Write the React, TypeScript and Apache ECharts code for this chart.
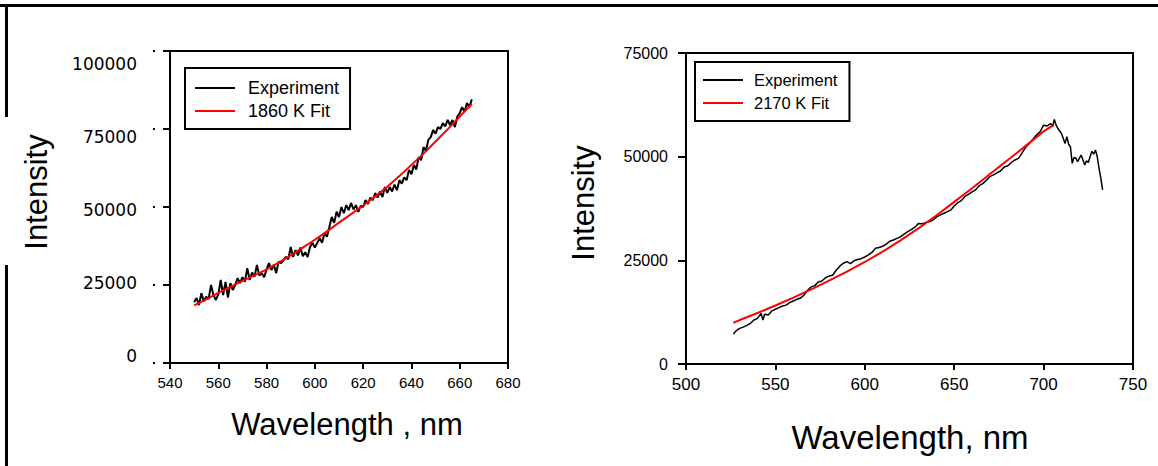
import React, { useEffect, useRef } from "react";
import * as echarts from "echarts";

// ---------- data ----------
const leftExpWl = [
  550, 551, 552, 553, 554, 555, 556, 557, 558, 559, 560, 561, 562, 563, 564, 565, 566, 567, 568, 569,
  570, 571, 572, 573, 574, 575, 576, 577, 578, 579, 580, 581, 582, 583, 584, 585, 586, 587, 588, 589,
  590, 591, 592, 593, 594, 595, 596, 597, 598, 599, 600, 601, 602, 603, 604, 605, 606, 607, 608, 609,
  610, 611, 612, 613, 614, 615, 616, 617, 618, 619, 620, 621, 622, 623, 624, 625, 626, 627, 628, 629,
  630, 631, 632, 633, 634, 635, 636, 637, 638, 639, 640, 641, 642, 643, 644, 645, 646, 647, 648, 649,
  650, 651, 652, 653, 654, 655, 656, 657, 658, 659, 660, 661, 662, 663, 664, 665,
];
const leftExpInt = [
  19500, 20800, 18600, 22400, 19800, 21200, 20500, 25000, 21800, 20200, 22000, 26600, 21800, 26000, 21000, 25600, 23400, 25000, 27200, 25600,
  27500, 26000, 30400, 26600, 29000, 27600, 31400, 28000, 28800, 27500, 30000, 32000, 29800, 31500, 28800, 32500, 32000, 33000, 34000, 33200,
  37200, 34000, 36200, 34500, 37000, 34200, 35500, 34000, 37200, 38500, 37000, 38500, 40000, 38500, 41700, 40500, 43600, 46800, 44900, 48500,
  46800, 50000, 48000, 50600, 49000, 51300, 49200, 50600, 48400, 50400, 50000, 52200, 51000, 53000, 52200, 54500, 53000, 55000, 53200, 56400,
  54500, 56400, 55000, 57200, 55400, 58600, 57500, 59500, 58600, 61900, 60500, 63500, 62000, 66000, 65000, 69200, 68000, 71500, 72400, 74700,
  73500, 75600, 75000, 76900, 75800, 77900, 76300, 77900, 75600, 79000, 80100, 82000, 80500, 83300, 82000, 84500,
];
const leftFitWl = [550, 555, 560, 565, 570, 575, 580, 585, 590, 595, 600, 605, 610, 615, 620, 625, 630, 635, 640, 645, 650, 655, 660, 665];
const leftFitInt = [18500, 20400, 22500, 24400, 26300, 28100, 30000, 32200, 34500, 37000, 39500, 42200, 45000, 47700, 50500, 53400, 56500, 59900, 63500, 67100, 71000, 74900, 79000, 83000];

const rightExpWl = [
  526.5, 528, 530, 532, 534, 536, 538, 540, 542, 543, 544, 546, 548, 550, 552, 554, 556, 558, 560, 562,
  564, 566, 568, 570, 572, 574, 576, 578, 580, 582, 584, 586, 588, 590, 592, 594, 596, 598, 600, 602,
  604, 606, 608, 610, 612, 614, 616, 618, 620, 622, 624, 626, 628, 630, 632, 634, 636, 638, 640, 642,
  644, 646, 648, 650, 652, 654, 656, 658, 660, 662, 664, 666, 668, 670, 672, 674, 676, 678, 680, 682,
  684, 686, 688, 690, 692, 694, 696, 698, 700, 702, 704, 705, 706, 707, 708, 710, 712, 713, 714, 715,
  716, 717, 718, 719, 720, 721, 722, 723, 724, 725, 726, 727, 728, 729, 730, 731, 732, 733,
];
const rightExpInt = [
  7200, 8000, 8600, 8900, 9300, 9800, 10600, 11000, 12200, 10600, 12000, 11800, 12800, 13200, 13600, 14000, 14200, 14800, 15200, 15600,
  15900, 16600, 17800, 18600, 18900, 19800, 20000, 20800, 21200, 21400, 22600, 23600, 24300, 24700, 24200, 24900, 25200, 25400, 25800, 26300,
  26900, 27900, 28100, 28400, 28900, 29600, 29900, 30300, 30700, 31300, 31900, 32400, 33000, 33900, 33800, 34100, 34300, 34700, 35400, 35900,
  36300, 36700, 37100, 38100, 38900, 39400, 40400, 40900, 41500, 42000, 43000, 43500, 44300, 45200, 45600, 46100, 46600, 47500, 47800, 48600,
  49200, 49600, 50900, 52300, 53200, 54200, 55200, 56000, 57600, 57400, 58000, 57200, 59000, 57600, 56800, 55600, 53200, 54800, 53000, 52400,
  48400, 49800, 49700, 48800, 49600, 50400, 49200, 48000, 49000, 48600, 50000, 51300, 50600, 51600, 50000, 47200, 44800, 42000,
];
const rightFitWl = [526.5, 530, 540, 550, 560, 570, 580, 590, 600, 610, 620, 630, 640, 650, 660, 670, 680, 690, 700, 705];
const rightFitInt = [9950, 10600, 12300, 14100, 16000, 18000, 20100, 22300, 24600, 27100, 29800, 32700, 35800, 39100, 42400, 45800, 49200, 52600, 56100, 57500];

const leftYTicks = [0, 25000, 50000, 75000, 100000];
const leftLegend = ["Experiment", "1860 K Fit"];
const rightLegend = ["Experiment", "2170 K Fit"];
const leftXTitle = "Wavelength , nm";
const rightXTitle = "Wavelength, nm";
const yTitle = "Intensity";

const zip = (a: number[], b: number[]) => a.map((v, i) => [v, b[i]]);

const FONT = '"Liberation Sans", Arial, sans-serif';

export default function App() {
  const ref = useRef<HTMLDivElement>(null);
  useEffect(() => {
    if (!ref.current) return;
    const chart = echarts.init(ref.current, undefined, { renderer: "svg" });
    const axisLine = { show: true, lineStyle: { color: "#000", width: 2 } };
    const option: any = {
      animation: false,
      backgroundColor: "#fff",
      textStyle: { fontFamily: FONT, color: "#000" },
      grid: [
        { left: 170, top: 51, width: 338, height: 312, show: true, borderColor: "#000", borderWidth: 2, backgroundColor: "transparent" },
        { left: 686, top: 53, width: 447, height: 311, show: true, borderColor: "#000", borderWidth: 2, backgroundColor: "transparent" },
      ],
      xAxis: [
        {
          type: "value", gridIndex: 0, min: 540, max: 680, interval: 20,
          axisLine, splitLine: { show: false },
          axisTick: { show: true, length: 6, lineStyle: { color: "#000", width: 2 } },
          axisLabel: { fontSize: 15, color: "#000", margin: 12, fontFamily: FONT, formatter: (v: number) => String(v) },
        },
        {
          type: "value", gridIndex: 1, min: 500, max: 750, interval: 50,
          axisLine, splitLine: { show: false },
          axisTick: { show: true, length: 6, lineStyle: { color: "#000", width: 2 } },
          axisLabel: { fontSize: 17, color: "#000", margin: 12, fontFamily: FONT, formatter: (v: number) => String(v) },
        },
      ],
      yAxis: [
        {
          type: "value", gridIndex: 0, position: "left", min: 0, max: 100000, interval: 25000,
          axisLine, splitLine: { show: false },
          axisTick: { show: true, length: 17, lineStyle: { color: "#000", width: 2, type: [7, 8, 2, 30] } },
          axisLabel: { show: false },
        },
        {
          type: "value", gridIndex: 0, position: "left", offset: 0, min: -2393, max: 104274,
          axisLine: { show: false }, axisTick: { show: false }, splitLine: { show: false },
          axisLabel: {
            customValues: leftYTicks, fontSize: 17, color: "#000", margin: 33,
            fontFamily: '"DejaVu Sans", sans-serif', formatter: (v: number) => String(v),
          },
        },
        {
          type: "value", gridIndex: 1, position: "left", min: 0, max: 75000, interval: 25000,
          axisLine, splitLine: { show: false },
          axisTick: { show: true, length: 8, lineStyle: { color: "#000", width: 2 } },
          axisLabel: { fontSize: 16, color: "#000", margin: 18, fontFamily: FONT, formatter: (v: number) => String(v) },
        },
      ],
      legend: [
        {
          data: leftLegend, left: 185, top: 68, orient: "vertical", icon: "rect",
          itemWidth: 40, itemHeight: 2, itemGap: 3, padding: [10, 11, 8, 10],
          borderColor: "#000", borderWidth: 2, backgroundColor: "#fff", selectedMode: false,
          textStyle: { fontSize: 18, lineHeight: 20, color: "#000", fontFamily: FONT, padding: [0, 0, 0, 8] },
        },
        {
          data: rightLegend, left: 695, top: 62, orient: "vertical", icon: "rect",
          itemWidth: 40, itemHeight: 2, itemGap: 3, padding: [8, 12, 8, 8],
          borderColor: "#000", borderWidth: 2, backgroundColor: "#fff", selectedMode: false,
          textStyle: { fontSize: 16.5, lineHeight: 20, color: "#000", fontFamily: FONT, padding: [0, 0, 0, 6] },
        },
      ],
      series: [
        {
          type: "line", name: leftLegend[0], xAxisIndex: 0, yAxisIndex: 0, data: zip(leftExpWl, leftExpInt),
          symbol: "none", lineStyle: { color: "#000", width: 2 }, itemStyle: { color: "#000" },
        },
        {
          type: "line", name: leftLegend[1], xAxisIndex: 0, yAxisIndex: 0, data: zip(leftFitWl, leftFitInt),
          symbol: "none", lineStyle: { color: "#ff0000", width: 2 }, itemStyle: { color: "#ff0000" },
        },
        {
          type: "line", name: rightLegend[0], xAxisIndex: 1, yAxisIndex: 2, data: zip(rightExpWl, rightExpInt),
          symbol: "none", lineStyle: { color: "#000", width: 1.5 }, itemStyle: { color: "#000" },
        },
        {
          type: "line", name: rightLegend[1], xAxisIndex: 1, yAxisIndex: 2, data: zip(rightFitWl, rightFitInt),
          symbol: "none", lineStyle: { color: "#ff0000", width: 2 }, itemStyle: { color: "#ff0000" },
        },
      ],
      graphic: [
        { type: "line", shape: { x1: 0, y1: 5.5, x2: 1158, y2: 5.5 }, style: { stroke: "#000", lineWidth: 3 } },
        { type: "line", shape: { x1: 6.5, y1: 4, x2: 6.5, y2: 117 }, style: { stroke: "#000", lineWidth: 3 } },
        { type: "line", shape: { x1: 6.5, y1: 265, x2: 6.5, y2: 466 }, style: { stroke: "#000", lineWidth: 3 } },
        {
          type: "text", x: 347, y: 424,
          style: { text: leftXTitle, fill: "#000", font: `31px ${FONT}`, align: "center", verticalAlign: "middle", textAlign: "center", textVerticalAlign: "middle" },
        },
        {
          type: "text", x: 910, y: 437,
          style: { text: rightXTitle, fill: "#000", font: `33px ${FONT}`, align: "center", verticalAlign: "middle", textAlign: "center", textVerticalAlign: "middle" },
        },
        {
          type: "text", x: 36, y: 192, rotation: Math.PI / 2,
          style: { text: yTitle, fill: "#000", font: `31px ${FONT}`, align: "center", verticalAlign: "middle", textAlign: "center", textVerticalAlign: "middle" },
        },
        {
          type: "text", x: 583, y: 203, rotation: Math.PI / 2,
          style: { text: yTitle, fill: "#000", font: `31px ${FONT}`, align: "center", verticalAlign: "middle", textAlign: "center", textVerticalAlign: "middle" },
        },
      ],
    };
    chart.setOption(option);
    return () => chart.dispose();
  }, []);
  return (
    <div
      ref={ref}
      style={{ position: "fixed", left: 0, top: 0, width: 1158, height: 466, background: "#fff" }}
    />
  );
}
